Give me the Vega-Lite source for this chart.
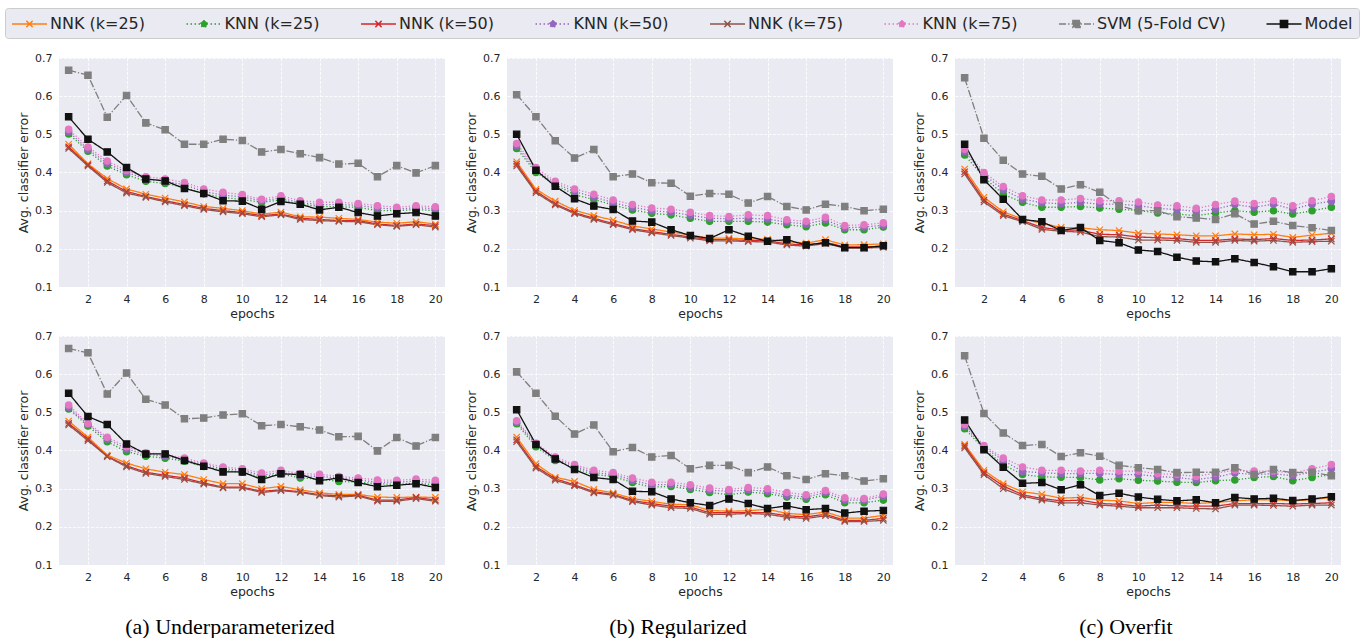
{"$schema":"https://vega.github.io/schema/vega-lite/v6.json","padding":{"left":4,"top":7,"right":4,"bottom":0},"bounds":"flush","columns":3,"spacing":{"row":49,"column":62},
"datasets":{
"a1":[{"k":"a","t":1,"v":0.474},{"k":"a","t":2,"v":0.423},{"k":"a","t":3,"v":0.384},{"k":"a","t":4,"v":0.357},{"k":"a","t":5,"v":0.343},{"k":"a","t":6,"v":0.333},{"k":"a","t":7,"v":0.323},{"k":"a","t":8,"v":0.311},{"k":"a","t":9,"v":0.306},{"k":"a","t":10,"v":0.300},{"k":"a","t":11,"v":0.291},{"k":"a","t":12,"v":0.296},{"k":"a","t":13,"v":0.284},{"k":"a","t":14,"v":0.283},{"k":"a","t":15,"v":0.280},{"k":"a","t":16,"v":0.277},{"k":"a","t":17,"v":0.270},{"k":"a","t":18,"v":0.267},{"k":"a","t":19,"v":0.271},{"k":"a","t":20,"v":0.265},
{"k":"b","t":1,"v":0.501},{"k":"b","t":2,"v":0.456},{"k":"b","t":3,"v":0.417},{"k":"b","t":4,"v":0.394},{"k":"b","t":5,"v":0.377},{"k":"b","t":6,"v":0.371},{"k":"b","t":7,"v":0.361},{"k":"b","t":8,"v":0.344},{"k":"b","t":9,"v":0.335},{"k":"b","t":10,"v":0.329},{"k":"b","t":11,"v":0.322},{"k":"b","t":12,"v":0.328},{"k":"b","t":13,"v":0.317},{"k":"b","t":14,"v":0.311},{"k":"b","t":15,"v":0.310},{"k":"b","t":16,"v":0.309},{"k":"b","t":17,"v":0.300},{"k":"b","t":18,"v":0.300},{"k":"b","t":19,"v":0.303},{"k":"b","t":20,"v":0.300},
{"k":"c","t":1,"v":0.467},{"k":"c","t":2,"v":0.420},{"k":"c","t":3,"v":0.378},{"k":"c","t":4,"v":0.350},{"k":"c","t":5,"v":0.337},{"k":"c","t":6,"v":0.326},{"k":"c","t":7,"v":0.316},{"k":"c","t":8,"v":0.306},{"k":"c","t":9,"v":0.300},{"k":"c","t":10,"v":0.295},{"k":"c","t":11,"v":0.287},{"k":"c","t":12,"v":0.291},{"k":"c","t":13,"v":0.280},{"k":"c","t":14,"v":0.277},{"k":"c","t":15,"v":0.274},{"k":"c","t":16,"v":0.274},{"k":"c","t":17,"v":0.265},{"k":"c","t":18,"v":0.261},{"k":"c","t":19,"v":0.265},{"k":"c","t":20,"v":0.261},
{"k":"d","t":1,"v":0.507},{"k":"d","t":2,"v":0.461},{"k":"d","t":3,"v":0.424},{"k":"d","t":4,"v":0.400},{"k":"d","t":5,"v":0.383},{"k":"d","t":6,"v":0.377},{"k":"d","t":7,"v":0.368},{"k":"d","t":8,"v":0.350},{"k":"d","t":9,"v":0.341},{"k":"d","t":10,"v":0.336},{"k":"d","t":11,"v":0.326},{"k":"d","t":12,"v":0.333},{"k":"d","t":13,"v":0.321},{"k":"d","t":14,"v":0.316},{"k":"d","t":15,"v":0.316},{"k":"d","t":16,"v":0.314},{"k":"d","t":17,"v":0.307},{"k":"d","t":18,"v":0.304},{"k":"d","t":19,"v":0.308},{"k":"d","t":20,"v":0.305},
{"k":"e","t":1,"v":0.463},{"k":"e","t":2,"v":0.417},{"k":"e","t":3,"v":0.374},{"k":"e","t":4,"v":0.346},{"k":"e","t":5,"v":0.335},{"k":"e","t":6,"v":0.323},{"k":"e","t":7,"v":0.313},{"k":"e","t":8,"v":0.303},{"k":"e","t":9,"v":0.297},{"k":"e","t":10,"v":0.292},{"k":"e","t":11,"v":0.284},{"k":"e","t":12,"v":0.289},{"k":"e","t":13,"v":0.277},{"k":"e","t":14,"v":0.274},{"k":"e","t":15,"v":0.272},{"k":"e","t":16,"v":0.271},{"k":"e","t":17,"v":0.263},{"k":"e","t":18,"v":0.259},{"k":"e","t":19,"v":0.263},{"k":"e","t":20,"v":0.257},
{"k":"f","t":1,"v":0.513},{"k":"f","t":2,"v":0.467},{"k":"f","t":3,"v":0.430},{"k":"f","t":4,"v":0.405},{"k":"f","t":5,"v":0.389},{"k":"f","t":6,"v":0.383},{"k":"f","t":7,"v":0.374},{"k":"f","t":8,"v":0.357},{"k":"f","t":9,"v":0.348},{"k":"f","t":10,"v":0.342},{"k":"f","t":11,"v":0.330},{"k":"f","t":12,"v":0.339},{"k":"f","t":13,"v":0.326},{"k":"f","t":14,"v":0.322},{"k":"f","t":15,"v":0.322},{"k":"f","t":16,"v":0.319},{"k":"f","t":17,"v":0.313},{"k":"f","t":18,"v":0.309},{"k":"f","t":19,"v":0.313},{"k":"f","t":20,"v":0.310},
{"k":"g","t":1,"v":0.668},{"k":"g","t":2,"v":0.655},{"k":"g","t":3,"v":0.545},{"k":"g","t":4,"v":0.602},{"k":"g","t":5,"v":0.530},{"k":"g","t":6,"v":0.512},{"k":"g","t":7,"v":0.474},{"k":"g","t":8,"v":0.474},{"k":"g","t":9,"v":0.487},{"k":"g","t":10,"v":0.484},{"k":"g","t":11,"v":0.454},{"k":"g","t":12,"v":0.460},{"k":"g","t":13,"v":0.449},{"k":"g","t":14,"v":0.439},{"k":"g","t":15,"v":0.422},{"k":"g","t":16,"v":0.424},{"k":"g","t":17,"v":0.389},{"k":"g","t":18,"v":0.418},{"k":"g","t":19,"v":0.399},{"k":"g","t":20,"v":0.418},
{"k":"h","t":1,"v":0.546},{"k":"h","t":2,"v":0.487},{"k":"h","t":3,"v":0.454},{"k":"h","t":4,"v":0.413},{"k":"h","t":5,"v":0.383},{"k":"h","t":6,"v":0.378},{"k":"h","t":7,"v":0.358},{"k":"h","t":8,"v":0.345},{"k":"h","t":9,"v":0.326},{"k":"h","t":10,"v":0.325},{"k":"h","t":11,"v":0.304},{"k":"h","t":12,"v":0.324},{"k":"h","t":13,"v":0.317},{"k":"h","t":14,"v":0.302},{"k":"h","t":15,"v":0.309},{"k":"h","t":16,"v":0.295},{"k":"h","t":17,"v":0.286},{"k":"h","t":18,"v":0.292},{"k":"h","t":19,"v":0.295},{"k":"h","t":20,"v":0.286}],
"b1":[{"k":"a","t":1,"v":0.428},{"k":"a","t":2,"v":0.356},{"k":"a","t":3,"v":0.325},{"k":"a","t":4,"v":0.301},{"k":"a","t":5,"v":0.287},{"k":"a","t":6,"v":0.275},{"k":"a","t":7,"v":0.260},{"k":"a","t":8,"v":0.252},{"k":"a","t":9,"v":0.244},{"k":"a","t":10,"v":0.236},{"k":"a","t":11,"v":0.228},{"k":"a","t":12,"v":0.228},{"k":"a","t":13,"v":0.226},{"k":"a","t":14,"v":0.225},{"k":"a","t":15,"v":0.219},{"k":"a","t":16,"v":0.215},{"k":"a","t":17,"v":0.224},{"k":"a","t":18,"v":0.210},{"k":"a","t":19,"v":0.211},{"k":"a","t":20,"v":0.213},
{"k":"b","t":1,"v":0.463},{"k":"b","t":2,"v":0.400},{"k":"b","t":3,"v":0.368},{"k":"b","t":4,"v":0.342},{"k":"b","t":5,"v":0.329},{"k":"b","t":6,"v":0.315},{"k":"b","t":7,"v":0.302},{"k":"b","t":8,"v":0.293},{"k":"b","t":9,"v":0.289},{"k":"b","t":10,"v":0.280},{"k":"b","t":11,"v":0.272},{"k":"b","t":12,"v":0.272},{"k":"b","t":13,"v":0.272},{"k":"b","t":14,"v":0.270},{"k":"b","t":15,"v":0.263},{"k":"b","t":16,"v":0.258},{"k":"b","t":17,"v":0.268},{"k":"b","t":18,"v":0.250},{"k":"b","t":19,"v":0.250},{"k":"b","t":20,"v":0.257},
{"k":"c","t":1,"v":0.422},{"k":"c","t":2,"v":0.351},{"k":"c","t":3,"v":0.318},{"k":"c","t":4,"v":0.295},{"k":"c","t":5,"v":0.280},{"k":"c","t":6,"v":0.266},{"k":"c","t":7,"v":0.253},{"k":"c","t":8,"v":0.245},{"k":"c","t":9,"v":0.238},{"k":"c","t":10,"v":0.231},{"k":"c","t":11,"v":0.224},{"k":"c","t":12,"v":0.224},{"k":"c","t":13,"v":0.222},{"k":"c","t":14,"v":0.221},{"k":"c","t":15,"v":0.213},{"k":"c","t":16,"v":0.210},{"k":"c","t":17,"v":0.217},{"k":"c","t":18,"v":0.205},{"k":"c","t":19,"v":0.205},{"k":"c","t":20,"v":0.207},
{"k":"d","t":1,"v":0.470},{"k":"d","t":2,"v":0.406},{"k":"d","t":3,"v":0.372},{"k":"d","t":4,"v":0.350},{"k":"d","t":5,"v":0.336},{"k":"d","t":6,"v":0.321},{"k":"d","t":7,"v":0.309},{"k":"d","t":8,"v":0.300},{"k":"d","t":9,"v":0.296},{"k":"d","t":10,"v":0.288},{"k":"d","t":11,"v":0.280},{"k":"d","t":12,"v":0.279},{"k":"d","t":13,"v":0.280},{"k":"d","t":14,"v":0.278},{"k":"d","t":15,"v":0.270},{"k":"d","t":16,"v":0.265},{"k":"d","t":17,"v":0.276},{"k":"d","t":18,"v":0.255},{"k":"d","t":19,"v":0.257},{"k":"d","t":20,"v":0.262},
{"k":"e","t":1,"v":0.417},{"k":"e","t":2,"v":0.347},{"k":"e","t":3,"v":0.315},{"k":"e","t":4,"v":0.292},{"k":"e","t":5,"v":0.277},{"k":"e","t":6,"v":0.263},{"k":"e","t":7,"v":0.250},{"k":"e","t":8,"v":0.242},{"k":"e","t":9,"v":0.235},{"k":"e","t":10,"v":0.228},{"k":"e","t":11,"v":0.221},{"k":"e","t":12,"v":0.221},{"k":"e","t":13,"v":0.219},{"k":"e","t":14,"v":0.218},{"k":"e","t":15,"v":0.210},{"k":"e","t":16,"v":0.207},{"k":"e","t":17,"v":0.214},{"k":"e","t":18,"v":0.202},{"k":"e","t":19,"v":0.202},{"k":"e","t":20,"v":0.204},
{"k":"f","t":1,"v":0.476},{"k":"f","t":2,"v":0.413},{"k":"f","t":3,"v":0.377},{"k":"f","t":4,"v":0.357},{"k":"f","t":5,"v":0.343},{"k":"f","t":6,"v":0.328},{"k":"f","t":7,"v":0.316},{"k":"f","t":8,"v":0.307},{"k":"f","t":9,"v":0.304},{"k":"f","t":10,"v":0.296},{"k":"f","t":11,"v":0.287},{"k":"f","t":12,"v":0.285},{"k":"f","t":13,"v":0.289},{"k":"f","t":14,"v":0.287},{"k":"f","t":15,"v":0.276},{"k":"f","t":16,"v":0.272},{"k":"f","t":17,"v":0.283},{"k":"f","t":18,"v":0.261},{"k":"f","t":19,"v":0.263},{"k":"f","t":20,"v":0.268},
{"k":"g","t":1,"v":0.604},{"k":"g","t":2,"v":0.546},{"k":"g","t":3,"v":0.483},{"k":"g","t":4,"v":0.438},{"k":"g","t":5,"v":0.460},{"k":"g","t":6,"v":0.389},{"k":"g","t":7,"v":0.396},{"k":"g","t":8,"v":0.373},{"k":"g","t":9,"v":0.372},{"k":"g","t":10,"v":0.338},{"k":"g","t":11,"v":0.345},{"k":"g","t":12,"v":0.343},{"k":"g","t":13,"v":0.320},{"k":"g","t":14,"v":0.337},{"k":"g","t":15,"v":0.311},{"k":"g","t":16,"v":0.302},{"k":"g","t":17,"v":0.317},{"k":"g","t":18,"v":0.311},{"k":"g","t":19,"v":0.300},{"k":"g","t":20,"v":0.304},
{"k":"h","t":1,"v":0.500},{"k":"h","t":2,"v":0.406},{"k":"h","t":3,"v":0.364},{"k":"h","t":4,"v":0.331},{"k":"h","t":5,"v":0.312},{"k":"h","t":6,"v":0.303},{"k":"h","t":7,"v":0.273},{"k":"h","t":8,"v":0.270},{"k":"h","t":9,"v":0.250},{"k":"h","t":10,"v":0.235},{"k":"h","t":11,"v":0.227},{"k":"h","t":12,"v":0.250},{"k":"h","t":13,"v":0.233},{"k":"h","t":14,"v":0.220},{"k":"h","t":15,"v":0.224},{"k":"h","t":16,"v":0.210},{"k":"h","t":17,"v":0.216},{"k":"h","t":18,"v":0.203},{"k":"h","t":19,"v":0.203},{"k":"h","t":20,"v":0.208}],
"c1":[{"k":"a","t":1,"v":0.409},{"k":"a","t":2,"v":0.335},{"k":"a","t":3,"v":0.297},{"k":"a","t":4,"v":0.278},{"k":"a","t":5,"v":0.267},{"k":"a","t":6,"v":0.256},{"k":"a","t":7,"v":0.255},{"k":"a","t":8,"v":0.250},{"k":"a","t":9,"v":0.248},{"k":"a","t":10,"v":0.241},{"k":"a","t":11,"v":0.239},{"k":"a","t":12,"v":0.237},{"k":"a","t":13,"v":0.234},{"k":"a","t":14,"v":0.234},{"k":"a","t":15,"v":0.239},{"k":"a","t":16,"v":0.237},{"k":"a","t":17,"v":0.238},{"k":"a","t":18,"v":0.230},{"k":"a","t":19,"v":0.236},{"k":"a","t":20,"v":0.241},
{"k":"b","t":1,"v":0.446},{"k":"b","t":2,"v":0.387},{"k":"b","t":3,"v":0.343},{"k":"b","t":4,"v":0.322},{"k":"b","t":5,"v":0.309},{"k":"b","t":6,"v":0.309},{"k":"b","t":7,"v":0.311},{"k":"b","t":8,"v":0.307},{"k":"b","t":9,"v":0.304},{"k":"b","t":10,"v":0.300},{"k":"b","t":11,"v":0.294},{"k":"b","t":12,"v":0.291},{"k":"b","t":13,"v":0.287},{"k":"b","t":14,"v":0.294},{"k":"b","t":15,"v":0.300},{"k":"b","t":16,"v":0.296},{"k":"b","t":17,"v":0.300},{"k":"b","t":18,"v":0.291},{"k":"b","t":19,"v":0.300},{"k":"b","t":20,"v":0.309},
{"k":"c","t":1,"v":0.402},{"k":"c","t":2,"v":0.328},{"k":"c","t":3,"v":0.291},{"k":"c","t":4,"v":0.274},{"k":"c","t":5,"v":0.256},{"k":"c","t":6,"v":0.249},{"k":"c","t":7,"v":0.249},{"k":"c","t":8,"v":0.238},{"k":"c","t":9,"v":0.237},{"k":"c","t":10,"v":0.231},{"k":"c","t":11,"v":0.229},{"k":"c","t":12,"v":0.227},{"k":"c","t":13,"v":0.222},{"k":"c","t":14,"v":0.222},{"k":"c","t":15,"v":0.226},{"k":"c","t":16,"v":0.224},{"k":"c","t":17,"v":0.227},{"k":"c","t":18,"v":0.222},{"k":"c","t":19,"v":0.223},{"k":"c","t":20,"v":0.226},
{"k":"d","t":1,"v":0.455},{"k":"d","t":2,"v":0.394},{"k":"d","t":3,"v":0.355},{"k":"d","t":4,"v":0.330},{"k":"d","t":5,"v":0.321},{"k":"d","t":6,"v":0.318},{"k":"d","t":7,"v":0.322},{"k":"d","t":8,"v":0.317},{"k":"d","t":9,"v":0.317},{"k":"d","t":10,"v":0.313},{"k":"d","t":11,"v":0.306},{"k":"d","t":12,"v":0.303},{"k":"d","t":13,"v":0.298},{"k":"d","t":14,"v":0.304},{"k":"d","t":15,"v":0.316},{"k":"d","t":16,"v":0.309},{"k":"d","t":17,"v":0.317},{"k":"d","t":18,"v":0.304},{"k":"d","t":19,"v":0.317},{"k":"d","t":20,"v":0.325},
{"k":"e","t":1,"v":0.396},{"k":"e","t":2,"v":0.323},{"k":"e","t":3,"v":0.287},{"k":"e","t":4,"v":0.271},{"k":"e","t":5,"v":0.251},{"k":"e","t":6,"v":0.246},{"k":"e","t":7,"v":0.244},{"k":"e","t":8,"v":0.232},{"k":"e","t":9,"v":0.231},{"k":"e","t":10,"v":0.223},{"k":"e","t":11,"v":0.223},{"k":"e","t":12,"v":0.222},{"k":"e","t":13,"v":0.217},{"k":"e","t":14,"v":0.217},{"k":"e","t":15,"v":0.222},{"k":"e","t":16,"v":0.220},{"k":"e","t":17,"v":0.222},{"k":"e","t":18,"v":0.217},{"k":"e","t":19,"v":0.219},{"k":"e","t":20,"v":0.220},
{"k":"f","t":1,"v":0.461},{"k":"f","t":2,"v":0.400},{"k":"f","t":3,"v":0.363},{"k":"f","t":4,"v":0.339},{"k":"f","t":5,"v":0.328},{"k":"f","t":6,"v":0.328},{"k":"f","t":7,"v":0.332},{"k":"f","t":8,"v":0.326},{"k":"f","t":9,"v":0.326},{"k":"f","t":10,"v":0.323},{"k":"f","t":11,"v":0.315},{"k":"f","t":12,"v":0.313},{"k":"f","t":13,"v":0.306},{"k":"f","t":14,"v":0.316},{"k":"f","t":15,"v":0.325},{"k":"f","t":16,"v":0.319},{"k":"f","t":17,"v":0.326},{"k":"f","t":18,"v":0.313},{"k":"f","t":19,"v":0.326},{"k":"f","t":20,"v":0.337},
{"k":"g","t":1,"v":0.648},{"k":"g","t":2,"v":0.490},{"k":"g","t":3,"v":0.432},{"k":"g","t":4,"v":0.396},{"k":"g","t":5,"v":0.390},{"k":"g","t":6,"v":0.357},{"k":"g","t":7,"v":0.368},{"k":"g","t":8,"v":0.348},{"k":"g","t":9,"v":0.313},{"k":"g","t":10,"v":0.300},{"k":"g","t":11,"v":0.300},{"k":"g","t":12,"v":0.284},{"k":"g","t":13,"v":0.281},{"k":"g","t":14,"v":0.277},{"k":"g","t":15,"v":0.292},{"k":"g","t":16,"v":0.265},{"k":"g","t":17,"v":0.272},{"k":"g","t":18,"v":0.261},{"k":"g","t":19,"v":0.255},{"k":"g","t":20,"v":0.248},
{"k":"h","t":1,"v":0.474},{"k":"h","t":2,"v":0.381},{"k":"h","t":3,"v":0.330},{"k":"h","t":4,"v":0.277},{"k":"h","t":5,"v":0.271},{"k":"h","t":6,"v":0.248},{"k":"h","t":7,"v":0.256},{"k":"h","t":8,"v":0.222},{"k":"h","t":9,"v":0.216},{"k":"h","t":10,"v":0.197},{"k":"h","t":11,"v":0.193},{"k":"h","t":12,"v":0.178},{"k":"h","t":13,"v":0.168},{"k":"h","t":14,"v":0.166},{"k":"h","t":15,"v":0.174},{"k":"h","t":16,"v":0.164},{"k":"h","t":17,"v":0.153},{"k":"h","t":18,"v":0.140},{"k":"h","t":19,"v":0.140},{"k":"h","t":20,"v":0.148}],
"a2":[{"k":"a","t":1,"v":0.477},{"k":"a","t":2,"v":0.435},{"k":"a","t":3,"v":0.388},{"k":"a","t":4,"v":0.367},{"k":"a","t":5,"v":0.352},{"k":"a","t":6,"v":0.343},{"k":"a","t":7,"v":0.337},{"k":"a","t":8,"v":0.324},{"k":"a","t":9,"v":0.313},{"k":"a","t":10,"v":0.313},{"k":"a","t":11,"v":0.300},{"k":"a","t":12,"v":0.306},{"k":"a","t":13,"v":0.297},{"k":"a","t":14,"v":0.289},{"k":"a","t":15,"v":0.285},{"k":"a","t":16,"v":0.285},{"k":"a","t":17,"v":0.278},{"k":"a","t":18,"v":0.277},{"k":"a","t":19,"v":0.278},{"k":"a","t":20,"v":0.277},
{"k":"b","t":1,"v":0.509},{"k":"b","t":2,"v":0.464},{"k":"b","t":3,"v":0.423},{"k":"b","t":4,"v":0.397},{"k":"b","t":5,"v":0.385},{"k":"b","t":6,"v":0.380},{"k":"b","t":7,"v":0.372},{"k":"b","t":8,"v":0.358},{"k":"b","t":9,"v":0.348},{"k":"b","t":10,"v":0.343},{"k":"b","t":11,"v":0.330},{"k":"b","t":12,"v":0.339},{"k":"b","t":13,"v":0.328},{"k":"b","t":14,"v":0.325},{"k":"b","t":15,"v":0.319},{"k":"b","t":16,"v":0.317},{"k":"b","t":17,"v":0.313},{"k":"b","t":18,"v":0.311},{"k":"b","t":19,"v":0.315},{"k":"b","t":20,"v":0.310},
{"k":"c","t":1,"v":0.471},{"k":"c","t":2,"v":0.430},{"k":"c","t":3,"v":0.385},{"k":"c","t":4,"v":0.360},{"k":"c","t":5,"v":0.343},{"k":"c","t":6,"v":0.335},{"k":"c","t":7,"v":0.328},{"k":"c","t":8,"v":0.315},{"k":"c","t":9,"v":0.304},{"k":"c","t":10,"v":0.304},{"k":"c","t":11,"v":0.293},{"k":"c","t":12,"v":0.297},{"k":"c","t":13,"v":0.292},{"k":"c","t":14,"v":0.284},{"k":"c","t":15,"v":0.281},{"k":"c","t":16,"v":0.283},{"k":"c","t":17,"v":0.270},{"k":"c","t":18,"v":0.270},{"k":"c","t":19,"v":0.277},{"k":"c","t":20,"v":0.270},
{"k":"d","t":1,"v":0.513},{"k":"d","t":2,"v":0.468},{"k":"d","t":3,"v":0.430},{"k":"d","t":4,"v":0.404},{"k":"d","t":5,"v":0.390},{"k":"d","t":6,"v":0.385},{"k":"d","t":7,"v":0.376},{"k":"d","t":8,"v":0.363},{"k":"d","t":9,"v":0.352},{"k":"d","t":10,"v":0.348},{"k":"d","t":11,"v":0.335},{"k":"d","t":12,"v":0.343},{"k":"d","t":13,"v":0.334},{"k":"d","t":14,"v":0.332},{"k":"d","t":15,"v":0.328},{"k":"d","t":16,"v":0.323},{"k":"d","t":17,"v":0.317},{"k":"d","t":18,"v":0.317},{"k":"d","t":19,"v":0.320},{"k":"d","t":20,"v":0.316},
{"k":"e","t":1,"v":0.467},{"k":"e","t":2,"v":0.426},{"k":"e","t":3,"v":0.384},{"k":"e","t":4,"v":0.357},{"k":"e","t":5,"v":0.340},{"k":"e","t":6,"v":0.332},{"k":"e","t":7,"v":0.324},{"k":"e","t":8,"v":0.312},{"k":"e","t":9,"v":0.302},{"k":"e","t":10,"v":0.302},{"k":"e","t":11,"v":0.290},{"k":"e","t":12,"v":0.295},{"k":"e","t":13,"v":0.290},{"k":"e","t":14,"v":0.282},{"k":"e","t":15,"v":0.278},{"k":"e","t":16,"v":0.281},{"k":"e","t":17,"v":0.267},{"k":"e","t":18,"v":0.267},{"k":"e","t":19,"v":0.274},{"k":"e","t":20,"v":0.267},
{"k":"f","t":1,"v":0.519},{"k":"f","t":2,"v":0.471},{"k":"f","t":3,"v":0.435},{"k":"f","t":4,"v":0.410},{"k":"f","t":5,"v":0.394},{"k":"f","t":6,"v":0.390},{"k":"f","t":7,"v":0.380},{"k":"f","t":8,"v":0.367},{"k":"f","t":9,"v":0.357},{"k":"f","t":10,"v":0.352},{"k":"f","t":11,"v":0.341},{"k":"f","t":12,"v":0.348},{"k":"f","t":13,"v":0.339},{"k":"f","t":14,"v":0.338},{"k":"f","t":15,"v":0.332},{"k":"f","t":16,"v":0.328},{"k":"f","t":17,"v":0.323},{"k":"f","t":18,"v":0.322},{"k":"f","t":19,"v":0.325},{"k":"f","t":20,"v":0.322},
{"k":"g","t":1,"v":0.667},{"k":"g","t":2,"v":0.656},{"k":"g","t":3,"v":0.548},{"k":"g","t":4,"v":0.603},{"k":"g","t":5,"v":0.534},{"k":"g","t":6,"v":0.519},{"k":"g","t":7,"v":0.483},{"k":"g","t":8,"v":0.485},{"k":"g","t":9,"v":0.493},{"k":"g","t":10,"v":0.496},{"k":"g","t":11,"v":0.465},{"k":"g","t":12,"v":0.468},{"k":"g","t":13,"v":0.462},{"k":"g","t":14,"v":0.454},{"k":"g","t":15,"v":0.436},{"k":"g","t":16,"v":0.437},{"k":"g","t":17,"v":0.399},{"k":"g","t":18,"v":0.434},{"k":"g","t":19,"v":0.412},{"k":"g","t":20,"v":0.434},
{"k":"h","t":1,"v":0.550},{"k":"h","t":2,"v":0.489},{"k":"h","t":3,"v":0.468},{"k":"h","t":4,"v":0.417},{"k":"h","t":5,"v":0.391},{"k":"h","t":6,"v":0.391},{"k":"h","t":7,"v":0.374},{"k":"h","t":8,"v":0.359},{"k":"h","t":9,"v":0.344},{"k":"h","t":10,"v":0.344},{"k":"h","t":11,"v":0.324},{"k":"h","t":12,"v":0.339},{"k":"h","t":13,"v":0.337},{"k":"h","t":14,"v":0.321},{"k":"h","t":15,"v":0.328},{"k":"h","t":16,"v":0.316},{"k":"h","t":17,"v":0.305},{"k":"h","t":18,"v":0.309},{"k":"h","t":19,"v":0.313},{"k":"h","t":20,"v":0.303}],
"b2":[{"k":"a","t":1,"v":0.435},{"k":"a","t":2,"v":0.365},{"k":"a","t":3,"v":0.330},{"k":"a","t":4,"v":0.319},{"k":"a","t":5,"v":0.298},{"k":"a","t":6,"v":0.289},{"k":"a","t":7,"v":0.274},{"k":"a","t":8,"v":0.267},{"k":"a","t":9,"v":0.259},{"k":"a","t":10,"v":0.258},{"k":"a","t":11,"v":0.243},{"k":"a","t":12,"v":0.241},{"k":"a","t":13,"v":0.242},{"k":"a","t":14,"v":0.246},{"k":"a","t":15,"v":0.235},{"k":"a","t":16,"v":0.232},{"k":"a","t":17,"v":0.239},{"k":"a","t":18,"v":0.223},{"k":"a","t":19,"v":0.223},{"k":"a","t":20,"v":0.230},
{"k":"b","t":1,"v":0.470},{"k":"b","t":2,"v":0.410},{"k":"b","t":3,"v":0.374},{"k":"b","t":4,"v":0.354},{"k":"b","t":5,"v":0.337},{"k":"b","t":6,"v":0.332},{"k":"b","t":7,"v":0.316},{"k":"b","t":8,"v":0.304},{"k":"b","t":9,"v":0.306},{"k":"b","t":10,"v":0.298},{"k":"b","t":11,"v":0.290},{"k":"b","t":12,"v":0.284},{"k":"b","t":13,"v":0.291},{"k":"b","t":14,"v":0.287},{"k":"b","t":15,"v":0.278},{"k":"b","t":16,"v":0.272},{"k":"b","t":17,"v":0.284},{"k":"b","t":18,"v":0.263},{"k":"b","t":19,"v":0.263},{"k":"b","t":20,"v":0.270},
{"k":"c","t":1,"v":0.428},{"k":"c","t":2,"v":0.358},{"k":"c","t":3,"v":0.326},{"k":"c","t":4,"v":0.310},{"k":"c","t":5,"v":0.292},{"k":"c","t":6,"v":0.285},{"k":"c","t":7,"v":0.269},{"k":"c","t":8,"v":0.261},{"k":"c","t":9,"v":0.254},{"k":"c","t":10,"v":0.252},{"k":"c","t":11,"v":0.237},{"k":"c","t":12,"v":0.237},{"k":"c","t":13,"v":0.237},{"k":"c","t":14,"v":0.237},{"k":"c","t":15,"v":0.229},{"k":"c","t":16,"v":0.226},{"k":"c","t":17,"v":0.233},{"k":"c","t":18,"v":0.217},{"k":"c","t":19,"v":0.217},{"k":"c","t":20,"v":0.222},
{"k":"d","t":1,"v":0.474},{"k":"d","t":2,"v":0.416},{"k":"d","t":3,"v":0.378},{"k":"d","t":4,"v":0.359},{"k":"d","t":5,"v":0.342},{"k":"d","t":6,"v":0.337},{"k":"d","t":7,"v":0.322},{"k":"d","t":8,"v":0.310},{"k":"d","t":9,"v":0.311},{"k":"d","t":10,"v":0.304},{"k":"d","t":11,"v":0.296},{"k":"d","t":12,"v":0.293},{"k":"d","t":13,"v":0.297},{"k":"d","t":14,"v":0.293},{"k":"d","t":15,"v":0.283},{"k":"d","t":16,"v":0.278},{"k":"d","t":17,"v":0.290},{"k":"d","t":18,"v":0.270},{"k":"d","t":19,"v":0.270},{"k":"d","t":20,"v":0.280},
{"k":"e","t":1,"v":0.423},{"k":"e","t":2,"v":0.354},{"k":"e","t":3,"v":0.322},{"k":"e","t":4,"v":0.307},{"k":"e","t":5,"v":0.289},{"k":"e","t":6,"v":0.283},{"k":"e","t":7,"v":0.266},{"k":"e","t":8,"v":0.257},{"k":"e","t":9,"v":0.250},{"k":"e","t":10,"v":0.248},{"k":"e","t":11,"v":0.233},{"k":"e","t":12,"v":0.233},{"k":"e","t":13,"v":0.235},{"k":"e","t":14,"v":0.233},{"k":"e","t":15,"v":0.225},{"k":"e","t":16,"v":0.222},{"k":"e","t":17,"v":0.229},{"k":"e","t":18,"v":0.214},{"k":"e","t":19,"v":0.214},{"k":"e","t":20,"v":0.217},
{"k":"f","t":1,"v":0.478},{"k":"f","t":2,"v":0.419},{"k":"f","t":3,"v":0.383},{"k":"f","t":4,"v":0.363},{"k":"f","t":5,"v":0.348},{"k":"f","t":6,"v":0.342},{"k":"f","t":7,"v":0.328},{"k":"f","t":8,"v":0.317},{"k":"f","t":9,"v":0.317},{"k":"f","t":10,"v":0.310},{"k":"f","t":11,"v":0.302},{"k":"f","t":12,"v":0.298},{"k":"f","t":13,"v":0.303},{"k":"f","t":14,"v":0.300},{"k":"f","t":15,"v":0.290},{"k":"f","t":16,"v":0.284},{"k":"f","t":17,"v":0.295},{"k":"f","t":18,"v":0.276},{"k":"f","t":19,"v":0.274},{"k":"f","t":20,"v":0.286},
{"k":"g","t":1,"v":0.606},{"k":"g","t":2,"v":0.550},{"k":"g","t":3,"v":0.490},{"k":"g","t":4,"v":0.443},{"k":"g","t":5,"v":0.467},{"k":"g","t":6,"v":0.397},{"k":"g","t":7,"v":0.408},{"k":"g","t":8,"v":0.383},{"k":"g","t":9,"v":0.387},{"k":"g","t":10,"v":0.352},{"k":"g","t":11,"v":0.361},{"k":"g","t":12,"v":0.361},{"k":"g","t":13,"v":0.342},{"k":"g","t":14,"v":0.357},{"k":"g","t":15,"v":0.334},{"k":"g","t":16,"v":0.324},{"k":"g","t":17,"v":0.339},{"k":"g","t":18,"v":0.334},{"k":"g","t":19,"v":0.320},{"k":"g","t":20,"v":0.326},
{"k":"h","t":1,"v":0.507},{"k":"h","t":2,"v":0.416},{"k":"h","t":3,"v":0.378},{"k":"h","t":4,"v":0.350},{"k":"h","t":5,"v":0.329},{"k":"h","t":6,"v":0.324},{"k":"h","t":7,"v":0.293},{"k":"h","t":8,"v":0.292},{"k":"h","t":9,"v":0.273},{"k":"h","t":10,"v":0.263},{"k":"h","t":11,"v":0.256},{"k":"h","t":12,"v":0.273},{"k":"h","t":13,"v":0.261},{"k":"h","t":14,"v":0.248},{"k":"h","t":15,"v":0.255},{"k":"h","t":16,"v":0.245},{"k":"h","t":17,"v":0.248},{"k":"h","t":18,"v":0.236},{"k":"h","t":19,"v":0.241},{"k":"h","t":20,"v":0.243}],
"c2":[{"k":"a","t":1,"v":0.416},{"k":"a","t":2,"v":0.348},{"k":"a","t":3,"v":0.313},{"k":"a","t":4,"v":0.292},{"k":"a","t":5,"v":0.285},{"k":"a","t":6,"v":0.275},{"k":"a","t":7,"v":0.277},{"k":"a","t":8,"v":0.270},{"k":"a","t":9,"v":0.268},{"k":"a","t":10,"v":0.261},{"k":"a","t":11,"v":0.264},{"k":"a","t":12,"v":0.264},{"k":"a","t":13,"v":0.261},{"k":"a","t":14,"v":0.264},{"k":"a","t":15,"v":0.268},{"k":"a","t":16,"v":0.271},{"k":"a","t":17,"v":0.271},{"k":"a","t":18,"v":0.268},{"k":"a","t":19,"v":0.271},{"k":"a","t":20,"v":0.277},
{"k":"b","t":1,"v":0.457},{"k":"b","t":2,"v":0.404},{"k":"b","t":3,"v":0.363},{"k":"b","t":4,"v":0.337},{"k":"b","t":5,"v":0.331},{"k":"b","t":6,"v":0.330},{"k":"b","t":7,"v":0.329},{"k":"b","t":8,"v":0.323},{"k":"b","t":9,"v":0.326},{"k":"b","t":10,"v":0.322},{"k":"b","t":11,"v":0.320},{"k":"b","t":12,"v":0.317},{"k":"b","t":13,"v":0.316},{"k":"b","t":14,"v":0.321},{"k":"b","t":15,"v":0.323},{"k":"b","t":16,"v":0.329},{"k":"b","t":17,"v":0.332},{"k":"b","t":18,"v":0.321},{"k":"b","t":19,"v":0.329},{"k":"b","t":20,"v":0.337},
{"k":"c","t":1,"v":0.412},{"k":"c","t":2,"v":0.342},{"k":"c","t":3,"v":0.307},{"k":"c","t":4,"v":0.284},{"k":"c","t":5,"v":0.274},{"k":"c","t":6,"v":0.268},{"k":"c","t":7,"v":0.270},{"k":"c","t":8,"v":0.261},{"k":"c","t":9,"v":0.259},{"k":"c","t":10,"v":0.254},{"k":"c","t":11,"v":0.257},{"k":"c","t":12,"v":0.255},{"k":"c","t":13,"v":0.254},{"k":"c","t":14,"v":0.254},{"k":"c","t":15,"v":0.261},{"k":"c","t":16,"v":0.261},{"k":"c","t":17,"v":0.261},{"k":"c","t":18,"v":0.260},{"k":"c","t":19,"v":0.261},{"k":"c","t":20,"v":0.263},
{"k":"d","t":1,"v":0.463},{"k":"d","t":2,"v":0.409},{"k":"d","t":3,"v":0.374},{"k":"d","t":4,"v":0.345},{"k":"d","t":5,"v":0.342},{"k":"d","t":6,"v":0.339},{"k":"d","t":7,"v":0.340},{"k":"d","t":8,"v":0.340},{"k":"d","t":9,"v":0.337},{"k":"d","t":10,"v":0.337},{"k":"d","t":11,"v":0.332},{"k":"d","t":12,"v":0.329},{"k":"d","t":13,"v":0.324},{"k":"d","t":14,"v":0.330},{"k":"d","t":15,"v":0.341},{"k":"d","t":16,"v":0.337},{"k":"d","t":17,"v":0.339},{"k":"d","t":18,"v":0.334},{"k":"d","t":19,"v":0.343},{"k":"d","t":20,"v":0.352},
{"k":"e","t":1,"v":0.407},{"k":"e","t":2,"v":0.337},{"k":"e","t":3,"v":0.300},{"k":"e","t":4,"v":0.280},{"k":"e","t":5,"v":0.270},{"k":"e","t":6,"v":0.263},{"k":"e","t":7,"v":0.263},{"k":"e","t":8,"v":0.257},{"k":"e","t":9,"v":0.254},{"k":"e","t":10,"v":0.250},{"k":"e","t":11,"v":0.250},{"k":"e","t":12,"v":0.250},{"k":"e","t":13,"v":0.248},{"k":"e","t":14,"v":0.247},{"k":"e","t":15,"v":0.257},{"k":"e","t":16,"v":0.257},{"k":"e","t":17,"v":0.256},{"k":"e","t":18,"v":0.254},{"k":"e","t":19,"v":0.257},{"k":"e","t":20,"v":0.257},
{"k":"f","t":1,"v":0.468},{"k":"f","t":2,"v":0.413},{"k":"f","t":3,"v":0.380},{"k":"f","t":4,"v":0.357},{"k":"f","t":5,"v":0.348},{"k":"f","t":6,"v":0.348},{"k":"f","t":7,"v":0.346},{"k":"f","t":8,"v":0.348},{"k":"f","t":9,"v":0.346},{"k":"f","t":10,"v":0.346},{"k":"f","t":11,"v":0.339},{"k":"f","t":12,"v":0.337},{"k":"f","t":13,"v":0.332},{"k":"f","t":14,"v":0.341},{"k":"f","t":15,"v":0.348},{"k":"f","t":16,"v":0.346},{"k":"f","t":17,"v":0.346},{"k":"f","t":18,"v":0.341},{"k":"f","t":19,"v":0.352},{"k":"f","t":20,"v":0.363},
{"k":"g","t":1,"v":0.648},{"k":"g","t":2,"v":0.497},{"k":"g","t":3,"v":0.446},{"k":"g","t":4,"v":0.413},{"k":"g","t":5,"v":0.416},{"k":"g","t":6,"v":0.384},{"k":"g","t":7,"v":0.394},{"k":"g","t":8,"v":0.385},{"k":"g","t":9,"v":0.361},{"k":"g","t":10,"v":0.355},{"k":"g","t":11,"v":0.350},{"k":"g","t":12,"v":0.342},{"k":"g","t":13,"v":0.343},{"k":"g","t":14,"v":0.343},{"k":"g","t":15,"v":0.355},{"k":"g","t":16,"v":0.337},{"k":"g","t":17,"v":0.350},{"k":"g","t":18,"v":0.342},{"k":"g","t":19,"v":0.343},{"k":"g","t":20,"v":0.334},
{"k":"h","t":1,"v":0.480},{"k":"h","t":2,"v":0.402},{"k":"h","t":3,"v":0.356},{"k":"h","t":4,"v":0.314},{"k":"h","t":5,"v":0.316},{"k":"h","t":6,"v":0.297},{"k":"h","t":7,"v":0.310},{"k":"h","t":8,"v":0.282},{"k":"h","t":9,"v":0.288},{"k":"h","t":10,"v":0.278},{"k":"h","t":11,"v":0.272},{"k":"h","t":12,"v":0.268},{"k":"h","t":13,"v":0.271},{"k":"h","t":14,"v":0.263},{"k":"h","t":15,"v":0.277},{"k":"h","t":16,"v":0.273},{"k":"h","t":17,"v":0.275},{"k":"h","t":18,"v":0.269},{"k":"h","t":19,"v":0.273},{"k":"h","t":20,"v":0.279}]
},
"concat":[
{"data":{"name":"a1"},"width":386,"height":229,
 "encoding":{"x":{"field":"t","type":"quantitative","scale":{"domain":[0.5,20.5],"nice":false},"axis":{"title":"epochs"}},"y":{"field":"v","type":"quantitative","scale":{"domain":[0.1,0.7],"nice":false},"axis":{"title":"Avg. classifier error"}},
  "color":{"field":"k","type":"nominal","legend":{"orient":"none","legendX":-54,"legendY":-50,"direction":"horizontal","columns":8,"columnPadding":37.5,"padding":6,"fillColor":"#eaeaf2","strokeColor":"#cccccc","cornerRadius":3,"title":null,"labelFont":"DejaVu Sans","labelFontSize":16,"labelColor":"#262626","labelOffset":19,"labelLimit":400,"symbolSize":324,
   "labelExpr":"datum.value=='a'?'NNK (k=25)':datum.value=='b'?'KNN (k=25)':datum.value=='c'?'NNK (k=50)':datum.value=='d'?'KNN (k=50)':datum.value=='e'?'NNK (k=75)':datum.value=='f'?'KNN (k=75)':datum.value=='g'?'SVM (5-Fold CV)':'Model'",
   "encode":{"symbols":{"update":{"shape":{"signal":"indexof(['b','d','f'],datum.value)>=0?'M-1,0H2.889M0.594,0A0.35,0.35,0,1,1,1.294,0A0.35,0.35,0,1,1,0.594,0Z':indexof(['g','h'],datum.value)>=0?'M-1,0H2.889M0.544,-0.4H1.344V0.4H0.544Z':'M-1,0H2.889M0.594,-0.35L1.294,0.35M0.594,0.35L1.294,-0.35'"},"strokeDash":{"signal":"indexof(['b','d','f'],datum.value)>=0?[1.5,2.5]:datum.value=='g'?[7,2,1.5,2]:[1,0]"},"fill":{"scale":"color","field":"value"},"stroke":{"scale":"color","field":"value"},"strokeWidth":{"value":1.5},"opacity":{"value":1},"fillOpacity":{"value":1},"strokeOpacity":{"value":1}}}}}}},
 "layer":[{"mark":{"type":"line","strokeWidth":1.3},"encoding":{"strokeDash":{"field":"k","type":"nominal","scale":{"range":[[1,0],[1.2,2],[1,0],[1.2,2],[1,0],[1.2,2],[7.7,1.9,1.2,1.9],[1,0]]},"legend":null}}},
  {"mark":{"type":"point","filled":true,"size":40,"opacity":1,"strokeWidth":1.2},"encoding":{"shape":{"field":"k","type":"nominal","legend":null},"stroke":{"field":"k","type":"nominal","legend":null}}}]},
{"data":{"name":"b1"},"width":386,"height":229,
 "encoding":{"x":{"field":"t","type":"quantitative","scale":{"domain":[0.5,20.5],"nice":false},"axis":{"title":"epochs"}},"y":{"field":"v","type":"quantitative","scale":{"domain":[0.1,0.7],"nice":false},"axis":{"title":"Avg. classifier error"}},"color":{"field":"k","type":"nominal","legend":null}},
 "layer":[{"mark":{"type":"line","strokeWidth":1.3},"encoding":{"strokeDash":{"field":"k","type":"nominal","scale":{"range":[[1,0],[1.2,2],[1,0],[1.2,2],[1,0],[1.2,2],[7.7,1.9,1.2,1.9],[1,0]]},"legend":null}}},
  {"mark":{"type":"point","filled":true,"size":40,"opacity":1,"strokeWidth":1.2},"encoding":{"shape":{"field":"k","type":"nominal","legend":null},"stroke":{"field":"k","type":"nominal","legend":null}}}]},
{"data":{"name":"c1"},"width":386,"height":229,
 "encoding":{"x":{"field":"t","type":"quantitative","scale":{"domain":[0.5,20.5],"nice":false},"axis":{"title":"epochs"}},"y":{"field":"v","type":"quantitative","scale":{"domain":[0.1,0.7],"nice":false},"axis":{"title":"Avg. classifier error"}},"color":{"field":"k","type":"nominal","legend":null}},
 "layer":[{"mark":{"type":"line","strokeWidth":1.3},"encoding":{"strokeDash":{"field":"k","type":"nominal","scale":{"range":[[1,0],[1.2,2],[1,0],[1.2,2],[1,0],[1.2,2],[7.7,1.9,1.2,1.9],[1,0]]},"legend":null}}},
  {"mark":{"type":"point","filled":true,"size":40,"opacity":1,"strokeWidth":1.2},"encoding":{"shape":{"field":"k","type":"nominal","legend":null},"stroke":{"field":"k","type":"nominal","legend":null}}}]},
{"data":{"name":"a2"},"width":386,"height":229,"title":"(a) Underparameterized",
 "encoding":{"x":{"field":"t","type":"quantitative","scale":{"domain":[0.5,20.5],"nice":false},"axis":{"title":"epochs"}},"y":{"field":"v","type":"quantitative","scale":{"domain":[0.1,0.7],"nice":false},"axis":{"title":"Avg. classifier error"}},"color":{"field":"k","type":"nominal","legend":null}},
 "layer":[{"mark":{"type":"line","strokeWidth":1.3},"encoding":{"strokeDash":{"field":"k","type":"nominal","scale":{"range":[[1,0],[1.2,2],[1,0],[1.2,2],[1,0],[1.2,2],[7.7,1.9,1.2,1.9],[1,0]]},"legend":null}}},
  {"mark":{"type":"point","filled":true,"size":40,"opacity":1,"strokeWidth":1.2},"encoding":{"shape":{"field":"k","type":"nominal","legend":null},"stroke":{"field":"k","type":"nominal","legend":null}}}]},
{"data":{"name":"b2"},"width":386,"height":229,"title":"(b) Regularized",
 "encoding":{"x":{"field":"t","type":"quantitative","scale":{"domain":[0.5,20.5],"nice":false},"axis":{"title":"epochs"}},"y":{"field":"v","type":"quantitative","scale":{"domain":[0.1,0.7],"nice":false},"axis":{"title":"Avg. classifier error"}},"color":{"field":"k","type":"nominal","legend":null}},
 "layer":[{"mark":{"type":"line","strokeWidth":1.3},"encoding":{"strokeDash":{"field":"k","type":"nominal","scale":{"range":[[1,0],[1.2,2],[1,0],[1.2,2],[1,0],[1.2,2],[7.7,1.9,1.2,1.9],[1,0]]},"legend":null}}},
  {"mark":{"type":"point","filled":true,"size":40,"opacity":1,"strokeWidth":1.2},"encoding":{"shape":{"field":"k","type":"nominal","legend":null},"stroke":{"field":"k","type":"nominal","legend":null}}}]},
{"data":{"name":"c2"},"width":386,"height":229,"title":"(c) Overfit",
 "encoding":{"x":{"field":"t","type":"quantitative","scale":{"domain":[0.5,20.5],"nice":false},"axis":{"title":"epochs"}},"y":{"field":"v","type":"quantitative","scale":{"domain":[0.1,0.7],"nice":false},"axis":{"title":"Avg. classifier error"}},"color":{"field":"k","type":"nominal","legend":null}},
 "layer":[{"mark":{"type":"line","strokeWidth":1.3},"encoding":{"strokeDash":{"field":"k","type":"nominal","scale":{"range":[[1,0],[1.2,2],[1,0],[1.2,2],[1,0],[1.2,2],[7.7,1.9,1.2,1.9],[1,0]]},"legend":null}}},
  {"mark":{"type":"point","filled":true,"size":40,"opacity":1,"strokeWidth":1.2},"encoding":{"shape":{"field":"k","type":"nominal","legend":null},"stroke":{"field":"k","type":"nominal","legend":null}}}]}
],
"config":{
 "view":{"fill":"#eaeaf2","stroke":null},
 "range":{"category":["#ff7f0e","#2ca02c","#d62728","#9467bd","#8c564b","#e377c2","#7f7f7f","#111111"],
  "symbol":["M-1,-1L1,1M-1,1L1,-1","M-1,0A1,1,0,1,1,1,0A1,1,0,1,1,-1,0Z","M-1,-1L1,1M-1,1L1,-1","M-1,0A1,1,0,1,1,1,0A1,1,0,1,1,-1,0Z","M-1,-1L1,1M-1,1L1,-1","M-1,0A1,1,0,1,1,1,0A1,1,0,1,1,-1,0Z","square","square"]},
 "axis":{"domain":false,"ticks":false,"tickSize":0,"grid":true,"gridColor":"#ffffff","gridDash":[3,1.5],"gridWidth":0.8,"labelFont":"DejaVu Sans","labelFontSize":11,"labelColor":"#262626","titleFont":"DejaVu Sans","titleFontSize":12.5,"titleFontWeight":"normal","titleColor":"#262626","labelFlush":false},
 "axisX":{"tickCount":10,"labelPadding":6,"titlePadding":3},
 "axisY":{"tickCount":6,"labelPadding":7,"titlePadding":4},
 "title":{"orient":"bottom","font":"Liberation Serif","fontSize":22,"fontWeight":"normal","color":"#000000","offset":19,"anchor":"middle","dx":-22}
}}
